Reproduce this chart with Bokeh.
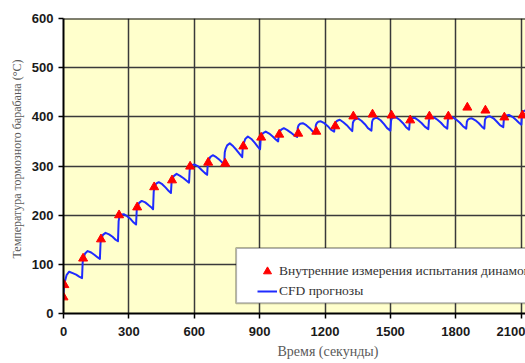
from bokeh.plotting import figure
from bokeh.models import (Range1d, FixedTicker, Legend, LegendItem, BoxAnnotation,
                          Span, Title)
from bokeh.embed import file_html
from bokeh.resources import INLINE

# ---- data ----
test_time = [0, 4, 90, 172, 255, 338, 416, 498, 581, 664, 742, 825, 907, 990, 1077,
             1160, 1247, 1330, 1418, 1505, 1591, 1679, 1766, 1853, 1936, 2023, 2106]
test_temp = [33, 58, 112, 151, 200, 216, 257, 271, 299, 307, 305, 340, 358, 364, 366,
             370, 381, 401, 405, 403, 393, 401, 401, 419, 413, 399, 403]

cfd_time = [0, 3, 7, 14, 26, 42, 58, 72,
            85, 88, 92, 99, 111, 127, 143, 157,
            167, 170, 174, 181, 193, 209, 225, 239,
            250, 253, 257, 264, 276, 292, 308, 322,
            333, 336, 340, 347, 359, 375, 391, 405,
            411, 414, 418, 425, 437, 453, 469, 483,
            493, 496, 500, 507, 519, 535, 551, 565,
            576, 579, 583, 590, 602, 618, 634, 648,
            659, 662, 666, 673, 685, 701, 717, 731,
            737, 740, 744, 751, 763, 779, 795, 809,
            820, 823, 827, 834, 846, 862, 878, 892,
            902, 905, 909, 916, 928, 944, 960, 974,
            985, 988, 992, 999, 1011, 1027, 1043, 1057,
            1072, 1075, 1079, 1086, 1098, 1114, 1130, 1144,
            1155, 1158, 1162, 1169, 1181, 1197, 1213, 1227,
            1242, 1245, 1249, 1256, 1268, 1284, 1300, 1314,
            1325, 1328, 1332, 1339, 1351, 1367, 1383, 1397,
            1413, 1416, 1420, 1427, 1439, 1455, 1471, 1485,
            1500, 1503, 1507, 1514, 1526, 1542, 1558, 1572,
            1586, 1589, 1593, 1600, 1612, 1628, 1644, 1658,
            1674, 1677, 1681, 1688, 1700, 1716, 1732, 1746,
            1761, 1764, 1768, 1775, 1787, 1803, 1819, 1833,
            1848, 1851, 1855, 1862, 1874, 1890, 1906, 1920,
            1931, 1934, 1938, 1945, 1957, 1973, 1989, 2003,
            2018, 2021, 2025, 2032, 2044, 2060, 2076, 2090,
            2101, 2104, 2108, 2125]
cfd_temp = [40, 61, 66, 78, 85, 82, 79, 75,
            72, 104, 112, 122, 127, 124, 119, 114,
            111, 144, 152, 160, 164, 161, 156, 150,
            147, 188, 198, 201, 202, 198, 192, 185,
            181, 210, 217, 225, 229, 226, 220, 215,
            212, 248, 257, 264, 267, 263, 256, 249,
            245, 268, 274, 280, 284, 280, 275, 270,
            266, 292, 299, 302, 303, 299, 292, 286,
            282, 304, 310, 318, 322, 318, 312, 306,
            302, 328, 335, 342, 346, 340, 332, 324,
            318, 340, 346, 355, 360, 355, 347, 339,
            334, 356, 362, 367, 370, 366, 360, 354,
            350, 365, 369, 374, 377, 373, 368, 363,
            359, 378, 383, 386, 387, 383, 377, 370,
            366, 383, 387, 390, 391, 387, 381, 374,
            370, 385, 389, 392, 394, 389, 383, 376,
            371, 388, 392, 395, 397, 392, 385, 377,
            372, 390, 395, 397, 398, 393, 385, 377,
            372, 392, 397, 398, 399, 394, 387, 379,
            374, 391, 395, 397, 398, 393, 387, 380,
            375, 393, 398, 399, 399, 394, 388, 381,
            376, 394, 398, 399, 399, 394, 388, 381,
            376, 390, 394, 396, 397, 393, 387, 380,
            376, 394, 398, 400, 401, 397, 390, 383,
            379, 397, 402, 403, 404, 400, 394, 388,
            384, 406, 411, 414]

x_ticks = [0, 300, 600, 900, 1200, 1500, 1800, 2100]
y_ticks = [0, 100, 200, 300, 400, 500, 600]

label_test = "Внутренние измерения испытания динамометра"
label_cfd = "CFD прогнозы"
x_title = "Время (секунды)"
y_title = "Температура тормозного барабана (°C)"

# ---- figure ----
p = figure(width=525, height=363, output_backend="svg", toolbar_location=None,
           x_range=Range1d(0, 2120), y_range=Range1d(0, 600),
           min_border_left=63, min_border_right=0, min_border_top=18,
           min_border_bottom=50)
p.background_fill_color = "#FFFFCC"
p.border_fill_color = "white"
p.outline_line_color = None

for g, t in ((p.xgrid, x_ticks), (p.ygrid, y_ticks)):
    g.ticker = FixedTicker(ticks=t)
    g.grid_line_color = "#3a3a3a"
    g.grid_line_width = 1.5

for ax, t in ((p.xaxis, x_ticks), (p.yaxis, y_ticks)):
    ax.ticker = FixedTicker(ticks=t)
    ax.axis_line_color = "black"
    ax.axis_line_width = 2
    ax.major_tick_line_color = "black"
    ax.major_tick_line_width = 1.5
    ax.major_tick_out = 5
    ax.major_tick_in = 0
    ax.minor_tick_line_color = None
    ax.major_label_text_font = "Liberation Sans"
    ax.major_label_text_font_style = "bold"
    ax.major_label_text_font_size = "13px"
    ax.major_label_text_color = "#1a1a1a"

p.xaxis.major_label_standoff = 8
p.yaxis.major_label_standoff = 5

p.add_layout(Span(location=600, dimension="width", line_color="black", line_width=2))

r_line = p.line(cfd_time, cfd_temp, line_color="#1f2bff", line_width=2,
                line_join="round")
r_pts = p.scatter(test_time, test_temp, marker="triangle", size=9,
                  fill_color="#ff0000", line_color="#ff0000")

box = BoxAnnotation(left=792, right=3000, bottom=21, top=133,
                    fill_color="white", fill_alpha=1.0,
                    line_color="black", line_width=2)
p.add_layout(box)

legend = Legend(items=[LegendItem(label=label_test, renderers=[r_pts]),
                       LegendItem(label=label_cfd, renderers=[r_line])],
                location=(194, 12), padding=6, spacing=0, margin=0,
                glyph_width=20, glyph_height=20, label_standoff=2,
                border_line_color=None, background_fill_alpha=0,
                label_text_font="Liberation Serif", label_text_font_size="13.5px",
                label_text_color="#333333")
p.add_layout(legend)

# axis titles as side titles (the reference is cropped on the right)
p.add_layout(Title(text=x_title, align="left", offset=214, standoff=6,
                   text_font="Liberation Serif", text_font_size="14px",
                   text_font_style="normal", text_color="#5a5a5a"), "below")
p.add_layout(Title(text=y_title, align="left", offset=55, standoff=9,
                   text_font="Liberation Serif", text_font_size="12px",
                   text_font_style="normal", text_color="#5a5a5a"), "left")

open("out.html", "w").write(file_html(p, INLINE))
